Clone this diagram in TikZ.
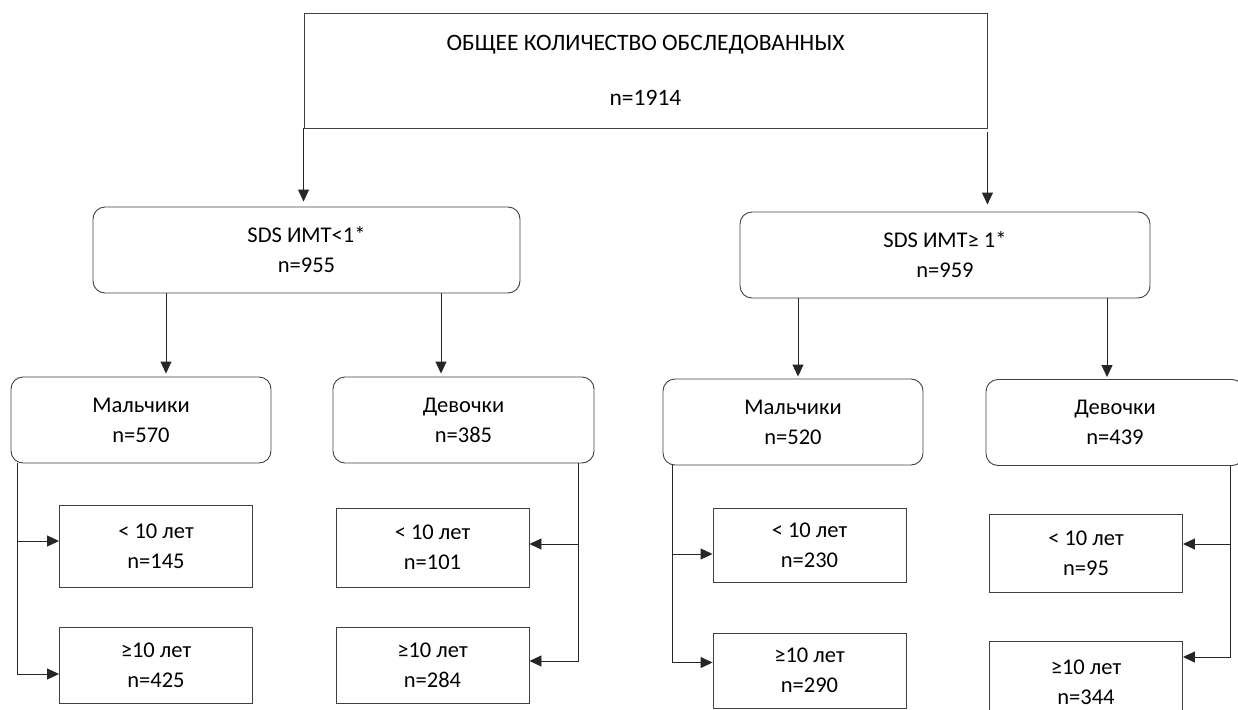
\documentclass[tikz,border=0pt]{standalone}
\usepackage{fontspec}
\setmainfont{Carlito}
\usetikzlibrary{arrows.meta}

\tikzset{
    box/.style={draw=black!75, line width=0.9pt, align=center, inner sep=0pt,
        font=\fontsize{22.5}{30}\selectfont},
    rbox/.style={box, rounded corners=12pt, minimum height=86pt},
    agebox/.style={box, minimum width=193pt},
    arr/.style={-{Triangle[length=12pt,width=11pt]}, line width=0.9pt, black!85},
}

\begin{document}
\begin{tikzpicture}[x=1pt, y=-1pt]
    \useasboundingbox (0,0) rectangle (1238,709);

    % top level
    \node [box, minimum width=683pt, minimum height=115pt, font=\fontsize{23.5}{55}\selectfont]
        (total) at (645.5,70.5) {ОБЩЕЕ КОЛИЧЕСТВО ОБСЛЕДОВАННЫХ\\n=1914};

    % SDS groups
    \node [rbox, minimum width=427pt] (sdsLow)  at (306.5,250) {SDS ИМТ<1*\\n=955};
    \node [rbox, minimum width=410pt] (sdsHigh) at (945,255)   {SDS ИМТ≥ 1*\\n=959};

    % sex
    \node [rbox, minimum width=260pt] (boysLow)   at (141,420)   {Мальчики\\n=570};
    \node [rbox, minimum width=261pt] (girlsLow)  at (463.5,420) {Девочки\\n=385};
    \node [rbox, minimum width=260pt] (boysHigh)  at (793,422)   {Мальчики\\n=520};
    \node [rbox, minimum width=258pt] (girlsHigh) at (1115,422.5) {Девочки\\n=439};

    % age
    \node [agebox, minimum height=82pt] (boysLowA)   at (156,546)    {< 10 лет\\n=145};
    \node [agebox, minimum height=76pt] (boysLowB)   at (156,665)    {≥10 лет\\n=425};
    \node [agebox, minimum height=79pt] (girlsLowA)  at (432.5,547.5) {< 10 лет\\n=101};
    \node [agebox, minimum height=76pt] (girlsLowB)  at (432.5,665)  {≥10 лет\\n=284};
    \node [agebox, minimum height=74pt] (boysHighA)  at (809.5,545)  {< 10 лет\\n=230};
    \node [agebox, minimum height=75pt] (boysHighB)  at (809.5,670.5) {≥10 лет\\n=290};
    \node [agebox, minimum height=78pt] (girlsHighA) at (1086,553)   {< 10 лет\\n=95};
    \node [agebox, minimum height=82pt] (girlsHighB) at (1086,682)   {≥10 лет\\n=344};

    % arrows
    \draw [arr, shorten >=5pt] (total.south west) -- (total.south west |- sdsLow.north);
    \draw [arr, shorten <=4pt, shorten >=7pt] (total.south east) -- (total.south east |- sdsHigh.north);

    \draw [arr, shorten >=3pt] (166,0 |- sdsLow.south) -- (166,0 |- boysLow.north);
    \draw [arr, shorten >=3pt] (441,0 |- sdsLow.south) -- (441,0 |- girlsLow.north);
    \draw [arr, shorten >=2pt] (798,0 |- sdsHigh.south) -- (798,0 |- boysHigh.north);
    \draw [arr, shorten >=2pt] (1107,0 |- sdsHigh.south) -- (1107,0 |- girlsHigh.north);

    \draw [arr] (17,0 |- boysLow.south) |- ([yshift=-9pt]boysLowB.west);
    \draw [arr] (17,541) -- (boysLowA.west |- 17,541);
    \draw [arr] (578,0 |- girlsLow.south) |- ([yshift=4pt]girlsLowB.east);
    \draw [arr] (578,544) -- (girlsLowA.east |- 578,544);
    \draw [arr] (672,0 |- boysHigh.south) |- ([yshift=8pt]boysHighB.west);
    \draw [arr] (672,554) -- (boysHighA.west |- 672,554);
    \draw [arr] (1230,0 |- girlsHigh.south) |- ([yshift=25pt]girlsHighB.east);
    \draw [arr] (1230,544) -- (girlsHighA.east |- 1230,544);
\end{tikzpicture}
\end{document}
